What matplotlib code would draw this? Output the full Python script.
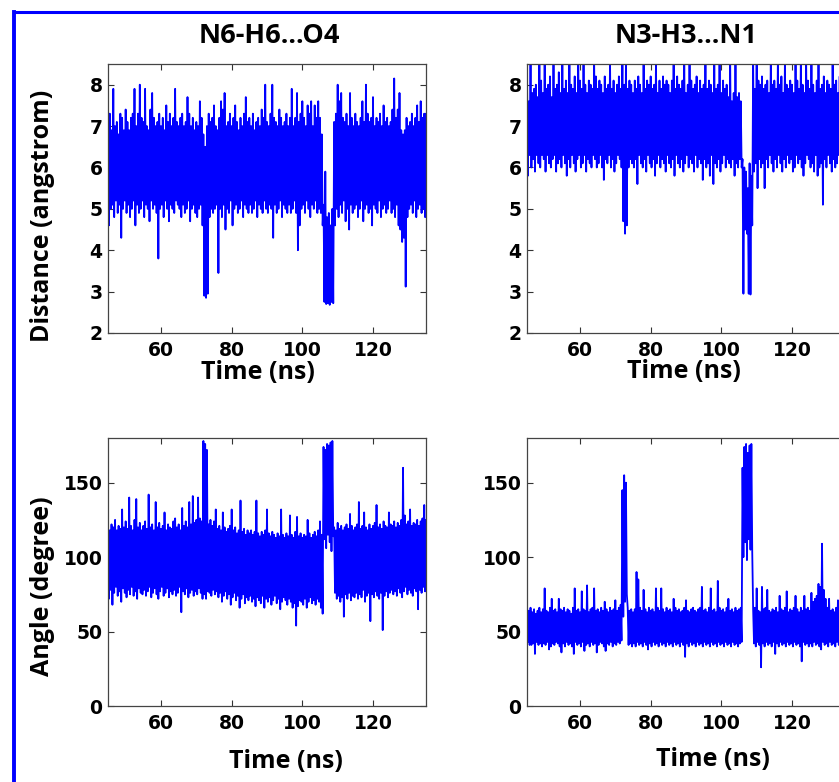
import numpy as np
import matplotlib
matplotlib.use("Agg")
import matplotlib.pyplot as plt
from matplotlib.lines import Line2D

# ---------------- data (sampled every 0.5 ns from 45 ns) ----------------
T_START = 45.0
T_STEP = 0.5

TITLES = ["N6-H6...O4", "N3-H3...N1"]
XTICKS = [60, 80, 100, 120]
DIST_TICKS = [2, 3, 4, 5, 6, 7, 8]
ANGLE_TICKS = [0, 50, 100, 150]

# N6-H6...O4 distance: upper / lower excursions
dist1_high = [
    7.6, 7.3, 6.9, 7.9, 7.0, 7.1, 6.8, 7.3, 7.2, 6.9, 7.4, 7.1, 6.9, 7.2, 7.3, 7.9, 7.0, 7.3, 8.0, 7.2,
    7.1, 7.9, 7.0, 6.9, 7.4, 7.8, 7.2, 7.0, 7.1, 7.3, 7.0, 7.2, 6.9, 7.5, 7.1, 7.3, 7.0, 7.2, 7.9, 7.1,
    7.0, 7.2, 7.3, 7.0, 7.1, 7.7, 7.3, 7.0, 7.2, 6.9, 7.1, 7.0, 7.6, 7.2, 6.8, 6.5, 7.0, 7.3, 7.1, 7.2,
    7.5, 7.0, 6.9, 7.2, 7.6, 7.4, 7.8, 7.0, 7.1, 7.3, 7.0, 7.2, 7.5, 7.1, 6.9, 7.2, 7.0, 7.3, 7.7, 7.1,
    7.2, 7.0, 7.3, 6.9, 7.1, 7.2, 7.0, 7.4, 7.2, 8.0, 7.1, 7.0, 7.3, 8.0, 7.2, 7.1, 7.0, 7.4, 7.2, 7.0,
    7.1, 7.3, 7.0, 7.2, 7.9, 7.0, 7.2, 7.8, 7.1, 7.3, 7.6, 7.2, 7.0, 7.5, 7.3, 7.6, 7.0, 7.5, 7.2, 7.6,
    7.2, 6.8, 5.1, 5.9, 4.8, 4.9, 4.6, 5.0, 7.1, 7.3, 8.0, 7.6, 7.8, 7.2, 7.1, 7.3, 7.0, 7.8, 7.2, 7.0,
    7.3, 7.1, 7.0, 7.2, 7.6, 7.1, 8.0, 7.3, 7.1, 7.2, 7.7, 7.0, 7.2, 7.1, 7.3, 7.0, 7.5, 7.1, 7.2, 7.0,
    7.1, 7.4, 8.15, 7.2, 7.4, 7.8, 6.9, 6.8, 6.9, 7.2, 7.0, 7.1, 7.3, 7.0, 7.2, 7.5, 7.1, 7.6, 7.2, 7.3,
    7.3,
]
dist1_low = [
    4.6, 5.0, 5.1, 4.8, 5.2, 4.9, 5.1, 4.3, 5.0, 5.2, 4.9, 5.1, 4.8, 5.0, 5.2, 4.6, 5.1, 4.9, 5.0, 5.2,
    4.8, 5.1, 5.0, 4.7, 5.2, 5.0, 5.1, 4.9, 3.8, 5.0, 5.1, 4.8, 5.2, 5.0, 4.7, 5.1, 5.0, 4.9, 5.2, 5.1,
    5.0, 4.8, 5.1, 4.9, 5.0, 5.2, 4.7, 5.0, 5.1, 4.9, 4.8, 5.0, 5.1, 4.6, 2.9, 2.85, 2.95, 4.8, 5.0, 4.9,
    5.0, 5.1, 3.45, 5.0, 4.8, 5.1, 4.5, 5.0, 4.9, 5.2, 4.6, 5.0, 5.1, 4.9, 5.0, 5.2, 4.8, 5.1, 5.0, 4.9,
    5.1, 4.9, 5.0, 5.2, 4.8, 5.1, 5.0, 4.9, 5.2, 5.0, 4.9, 5.1, 5.0, 4.3, 5.1, 4.9, 5.0, 5.2, 4.8, 5.1,
    5.0, 4.9, 5.1, 4.9, 5.0, 5.2, 4.9, 4.0, 4.6, 5.0, 5.1, 4.9, 5.2, 5.0, 4.8, 5.1, 5.0, 5.2, 4.9, 5.0,
    4.9, 4.6, 2.75, 2.7, 2.72, 2.68, 2.75, 2.72, 4.6, 5.0, 4.8, 5.1, 4.9, 5.2, 4.7, 5.0, 4.5, 5.1, 4.9, 5.0,
    5.1, 4.8, 5.0, 5.2, 4.7, 5.0, 5.1, 4.9, 5.0, 4.6, 5.1, 5.0, 4.9, 5.2, 4.8, 5.0, 5.1, 4.9, 5.0, 5.2,
    4.9, 5.0, 4.8, 5.1, 4.6, 4.5, 4.2, 4.3, 3.12, 4.8, 5.0, 5.1, 4.9, 5.2, 4.8, 5.0, 5.1, 4.9, 5.0, 4.8,
    4.8,
]

# N3-H3...N1 distance
dist2_high = [
    8.2, 7.6, 8.5, 7.8, 7.9, 8.0, 7.7, 8.6, 8.1, 7.8, 8.6, 7.9, 8.0, 8.2, 7.7, 8.6, 7.9, 8.0, 8.3, 7.8,
    8.6, 7.9, 8.1, 7.8, 8.6, 8.0, 7.9, 8.2, 7.8, 8.6, 8.1, 7.9, 8.6, 8.0, 7.8, 8.1, 8.0, 7.9, 8.6, 8.2,
    7.9, 8.1, 8.0, 7.8, 8.2, 7.9, 8.0, 8.6, 7.9, 8.1, 7.8, 8.0, 8.2, 7.9, 8.6, 8.0, 8.6, 7.9, 8.1, 8.0,
    7.8, 8.1, 7.9, 8.2, 8.0, 7.8, 8.6, 7.9, 8.1, 8.0, 8.2, 7.9, 8.0, 8.6, 7.8, 8.1, 7.9, 8.2, 8.0, 8.1,
    8.0, 7.8, 8.1, 8.6, 7.9, 8.2, 8.0, 7.9, 8.1, 8.6, 7.8, 8.0, 8.6, 8.1, 7.9, 8.0, 8.2, 7.8, 8.1, 7.9,
    8.0, 8.6, 7.9, 8.1, 8.0, 7.8, 8.6, 7.9, 8.0, 8.6, 7.8, 8.1, 7.9, 8.0, 7.7, 8.6, 7.6, 7.8, 8.6, 7.7,
    7.8, 7.6, 6.2, 6.0, 5.9, 5.5, 6.1, 5.8, 8.6, 7.9, 8.6, 8.1, 8.0, 8.2, 7.9, 8.0, 8.1, 7.8, 8.6, 8.0,
    8.1, 7.9, 8.6, 8.0, 8.2, 7.8, 8.6, 8.0, 7.9, 8.1, 8.0, 7.8, 8.6, 8.1, 7.9, 8.6, 8.0, 7.8, 8.6, 8.1,
    7.9, 8.6, 8.0, 7.8, 8.1, 8.6, 7.9, 8.0, 8.2, 7.8, 8.1, 8.0, 7.9, 8.6, 8.0, 8.1, 7.8, 8.2, 8.0, 7.9,
    8.0,
]
dist2_low = [
    5.8, 6.3, 6.0, 6.2, 5.9, 6.3, 6.1, 6.0, 6.3, 6.2, 5.9, 6.3, 6.1, 6.0, 6.2, 6.3, 5.9, 6.1, 6.2, 6.0,
    6.3, 6.1, 5.8, 6.2, 6.0, 6.3, 6.1, 5.9, 6.2, 6.3, 6.0, 6.1, 6.3, 5.9, 6.2, 6.1, 6.0, 6.3, 6.2, 6.0,
    6.1, 6.3, 6.0, 5.7, 6.2, 6.1, 6.3, 6.0, 6.2, 5.9, 6.1, 6.3, 6.2, 6.0, 4.7, 4.4, 4.6, 6.0, 6.2, 6.1,
    6.0, 6.2, 5.6, 6.3, 6.1, 6.0, 6.2, 5.9, 6.3, 6.1, 6.0, 6.2, 5.8, 6.1, 6.3, 6.0, 6.2, 6.1, 5.9, 6.3,
    6.1, 6.0, 6.2, 5.8, 6.3, 6.1, 6.0, 6.2, 5.9, 6.1, 6.3, 6.0, 6.2, 6.1, 5.9, 6.3, 6.0, 6.2, 6.1, 5.7,
    6.2, 6.0, 6.1, 5.8, 6.3, 5.6, 6.1, 6.0, 6.2, 5.9, 6.1, 6.3, 6.0, 6.2, 6.1, 6.0, 6.2, 5.8, 6.1, 6.0,
    6.2, 6.0, 2.95, 4.5, 4.4, 2.95, 2.93, 4.6, 5.9, 6.1, 5.5, 6.2, 6.0, 6.1, 5.5, 6.2, 6.0, 6.3, 6.1, 5.9,
    6.2, 6.0, 6.3, 6.1, 5.9, 6.2, 6.0, 6.3, 6.1, 6.2, 5.9, 6.0, 6.3, 6.1, 6.2, 6.0, 5.8, 6.1, 6.3, 6.2,
    6.0, 6.1, 5.9, 6.3, 5.8, 6.0, 6.1, 5.1, 6.2, 6.0, 6.3, 6.1, 5.9, 6.2, 6.0, 6.1, 6.3, 5.9, 6.2, 6.0,
    6.1,
]

# N6-H6...O4 angle
angle1_high = [
    127, 118, 122, 120, 125, 118, 121, 119, 132, 120, 124, 119, 140, 121, 118, 125, 139, 120, 123, 118,
    121, 124, 119, 142, 120, 122, 118, 137, 120, 123, 119, 121, 130, 118, 122, 120, 119, 124, 126, 120,
    122, 118, 133, 121, 124, 120, 137, 122, 141, 123, 125, 140, 126, 124, 178, 176, 172, 122, 125, 121,
    124, 132, 119, 121, 118, 130, 120, 117, 119, 121, 132, 118, 120, 116, 118, 138, 117, 119, 115, 118,
    116, 118, 115, 117, 138, 116, 114, 117, 115, 118, 132, 116, 114, 117, 115, 113, 116, 114, 132, 115,
    113, 116, 114, 128, 115, 113, 117, 127, 114, 116, 113, 115, 114, 125, 116, 113, 115, 117, 114, 118,
    124, 115, 174, 172, 176, 175, 177, 178, 120, 118, 123, 119, 121, 118, 120, 122, 119, 129, 121, 118,
    120, 122, 137, 119, 121, 130, 120, 118, 122, 119, 121, 123, 135, 120, 122, 119, 124, 121, 120, 130,
    122, 121, 124, 120, 123, 121, 125, 160, 128, 122, 124, 132, 121, 123, 122, 125, 121, 124, 126, 135,
    125,
]
angle1_low = [
    72, 78, 68, 76, 80, 74, 77, 70, 79, 76, 73, 78, 75, 80, 74, 77, 72, 79, 76, 75,
    78, 74, 77, 80, 73, 76, 79, 75, 72, 77, 80, 74, 76, 79, 73, 77, 75, 78, 74, 76,
    80, 63, 77, 75, 79, 73, 76, 78, 74, 77, 75, 79, 76, 72, 75, 72, 77, 76, 74, 78,
    75, 77, 73, 76, 70, 74, 77, 72, 75, 68, 73, 76, 71, 74, 66, 72, 75, 69, 73, 71,
    74, 70, 72, 67, 73, 71, 69, 74, 66, 72, 70, 73, 68, 71, 74, 69, 72, 65, 70, 73,
    71, 68, 72, 70, 66, 69, 54, 67, 71, 70, 68, 72, 66, 70, 73, 69, 71, 68, 72, 70,
    66, 62, 112, 106, 115, 110, 104, 114, 76, 72, 74, 70, 73, 60, 75, 72, 76, 71, 74, 73,
    76, 72, 75, 73, 78, 70, 74, 76, 57, 75, 73, 77, 74, 72, 76, 51, 74, 77, 73, 76,
    78, 75, 77, 74, 79, 76, 73, 77, 80, 75, 78, 76, 74, 79, 77, 65, 78, 76, 80, 77,
    78,
]

# N3-H3...N1 angle
angle2_high = [
    69, 64, 66, 63, 65, 62, 64, 66, 63, 65, 79, 64, 63, 66, 72, 64, 65, 63, 72, 65,
    64, 66, 63, 65, 64, 62, 66, 79, 64, 65, 63, 77, 65, 64, 81, 63, 65, 66, 79, 64,
    65, 63, 66, 64, 70, 65, 63, 66, 64, 65, 71, 64, 66, 68, 145, 155, 150, 66, 64, 65,
    63, 65, 90, 85, 66, 64, 78, 65, 63, 66, 64, 65, 63, 79, 66, 64, 79, 65, 63, 66,
    64, 65, 63, 72, 66, 64, 65, 63, 64, 66, 71, 64, 63, 65, 66, 64, 63, 65, 66, 80,
    64, 65, 63, 66, 79, 64, 65, 63, 84, 66, 64, 65, 63, 66, 72, 64, 65, 63, 66, 64,
    65, 66, 160, 174, 176, 170, 175, 176, 65, 66, 79, 64, 63, 80, 65, 66, 78, 64, 63, 65,
    64, 66, 63, 74, 65, 64, 66, 77, 63, 65, 64, 66, 74, 65, 63, 66, 64, 74, 65, 66,
    64, 76, 70, 72, 74, 82, 80, 109, 78, 72, 66, 72, 64, 65, 63, 66, 71, 64, 65, 66,
    65,
]
angle2_low = [
    43, 41, 41, 42, 35, 43, 41, 42, 40, 42, 41, 43, 38, 40, 42, 41, 43, 42, 40, 36,
    42, 40, 43, 41, 42, 40, 35, 43, 41, 42, 40, 43, 37, 41, 42, 40, 43, 41, 42, 36,
    41, 43, 42, 40, 37, 42, 41, 43, 40, 42, 41, 43, 42, 44, 60, 70, 75, 41, 42, 40,
    42, 40, 43, 41, 42, 40, 43, 41, 38, 42, 40, 43, 41, 42, 40, 43, 41, 42, 40, 43,
    41, 42, 40, 43, 41, 42, 40, 43, 41, 33, 42, 40, 43, 41, 42, 40, 43, 41, 42, 40,
    43, 41, 42, 40, 43, 41, 42, 40, 43, 41, 42, 40, 43, 41, 42, 40, 43, 41, 42, 40,
    42, 43, 100, 110, 98, 112, 105, 103, 42, 40, 43, 41, 26, 42, 40, 43, 41, 42, 40, 43,
    35, 42, 40, 43, 41, 42, 40, 43, 41, 42, 40, 43, 41, 42, 40, 30, 43, 41, 42, 40,
    42, 40, 43, 41, 42, 40, 38, 43, 41, 42, 40, 43, 41, 42, 40, 43, 41, 42, 40, 43,
    41,
]


def trace(high, low):
    """Interleave the upper and lower excursions into one time trace."""
    high = np.asarray(high, float)
    low = np.asarray(low, float)
    n = min(len(high), len(low))
    t = T_START + T_STEP * np.arange(n)
    x = np.empty(2 * n)
    y = np.empty(2 * n)
    x[0::2] = t
    x[1::2] = t + T_STEP / 2
    y[0::2] = high[:n]
    y[1::2] = low[:n]
    return x, y


W, H = 839, 782
fig = plt.figure(figsize=(W / 100, H / 100), dpi=100)
fig.patch.set_facecolor("white")

LABEL_FONT = dict(family=["Open Sans", "DejaVu Sans"], weight="bold", size=18)
TITLE_FONT = dict(family=["Open Sans", "DejaVu Sans"], weight="bold", size=19.5)
TICK_FONT = dict(family="DejaVu Sans", weight="bold", size=13.5)
LINE_COLOR = "#0000FF"


def px_axes(left, top, right, bottom):
    return fig.add_axes([left / W, 1 - bottom / H, (right - left) / W, (bottom - top) / H])


def style(ax, ylim, yticks):
    ax.set_xlim(45, 135)
    ax.set_ylim(*ylim)
    ax.set_xticks(XTICKS)
    ax.set_yticks(yticks)
    ax.tick_params(direction="in", top=True, right=True, length=4, width=0.8,
                   color="#333333", labelcolor="black")
    ax.tick_params(axis="x", pad=6)
    ax.tick_params(axis="y", pad=4)
    for lab in ax.get_xticklabels() + ax.get_yticklabels():
        lab.set_fontfamily(TICK_FONT["family"])
        lab.set_fontweight(TICK_FONT["weight"])
        lab.set_fontsize(TICK_FONT["size"])
    for sp in ax.spines.values():
        sp.set_color("#444444")
        sp.set_linewidth(0.9)
        sp.set_zorder(3)


panels = [
    ((108, 64, 426, 333), dist1_high, dist1_low, (2, 8.5), DIST_TICKS),
    ((527, 64, 845, 333), dist2_high, dist2_low, (2, 8.5), DIST_TICKS),
    ((108, 438, 426, 706), angle1_high, angle1_low, (0, 180), ANGLE_TICKS),
    ((527, 438, 845, 706), angle2_high, angle2_low, (0, 180), ANGLE_TICKS),
]
for box, hi, lo, ylim, yt in panels:
    ax = px_axes(*box)
    x, y = trace(hi, lo)
    ax.plot(x, y, color=LINE_COLOR, lw=1.3, solid_joinstyle="round")
    style(ax, ylim, yt)

# titles
fig.text(269 / W, 1 - 36 / H, TITLES[0], ha="center", va="center", **TITLE_FONT)
fig.text(686 / W, 1 - 36 / H, TITLES[1], ha="center", va="center", **TITLE_FONT)
# y labels
fig.text(43 / W, 1 - 216 / H, "Distance (angstrom)", rotation=90, ha="center", va="center", **LABEL_FONT)
fig.text(43 / W, 1 - 586 / H, "Angle (degree)", rotation=90, ha="center", va="center", **LABEL_FONT)
# x labels
fig.text(258 / W, 1 - 373 / H, "Time (ns)", ha="center", va="center", **LABEL_FONT)
fig.text(684 / W, 1 - 372 / H, "Time (ns)", ha="center", va="center", **LABEL_FONT)
fig.text(286 / W, 1 - 761 / H, "Time (ns)", ha="center", va="center", **LABEL_FONT)
fig.text(713 / W, 1 - 759 / H, "Time (ns)", ha="center", va="center", **LABEL_FONT)

# blue frame around the panel (continues beyond the cropped edges)
fig.add_artist(Line2D([14 / W, 14 / W], [-0.05, 1 - 11.5 / H], transform=fig.transFigure,
                      color="#0000FF", lw=2.8, solid_capstyle="projecting"))
fig.add_artist(Line2D([14 / W, 1.05], [1 - 11.5 / H, 1 - 11.5 / H], transform=fig.transFigure,
                      color="#0000FF", lw=2.2, solid_capstyle="projecting"))

fig.savefig("out.png", dpi=100)
